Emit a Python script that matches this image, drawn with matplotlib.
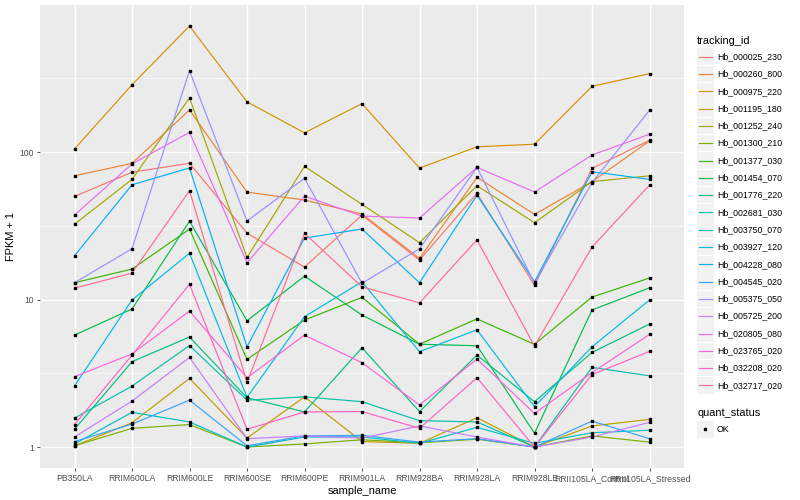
import matplotlib
matplotlib.use("Agg")
import matplotlib.pyplot as plt
from matplotlib.lines import Line2D
from matplotlib.patches import Rectangle
import numpy as np

plt.rcParams['font.family'] = ['Liberation Sans', 'DejaVu Sans']

samples = ['PB350LA', 'RRIM600LA', 'RRIM600LE', 'RRIM600SE', 'RRIM600PE',
           'RRIM901LA', 'RRIM928BA', 'RRIM928LA', 'RRIM928LE',
           'RRII105LA_Control', 'RRII105LA_Stressed']

tracking_ids = ['Hb_000025_230', 'Hb_000260_800', 'Hb_000975_220', 'Hb_001195_180',
                'Hb_001252_240', 'Hb_001300_210', 'Hb_001377_030', 'Hb_001454_070',
                'Hb_001776_220', 'Hb_002681_030', 'Hb_003750_070', 'Hb_003927_120',
                'Hb_004228_080', 'Hb_004545_020', 'Hb_005375_050', 'Hb_005725_200',
                'Hb_020805_080', 'Hb_023765_020', 'Hb_032208_020', 'Hb_032717_020']

# ggplot default hue palette for 20 levels
colors = ['#F8766D', '#EA8331', '#D89000', '#C09B00', '#A3A500', '#7CAE00',
          '#39B600', '#00BB4E', '#00BF7D', '#00C1A3', '#00BFC4', '#00BAE0',
          '#00B0F6', '#35A2FF', '#9590FF', '#C77CFF', '#E76BF3', '#FA62DB',
          '#FF62BC', '#FF6C91']

# FPKM + 1, one list per tracking_id (same order as samples)
fpkm = [
    [50, 73, 84, 28.2, 16.6, 37.4, 18.5, 52.5, 12.5, 77.5, 120],        # 000025
    [69, 83.8, 193, 53.5, 47.3, 38, 19.0, 67.4, 37.8, 62.9, 119],       # 000260
    [105, 286, 715, 219, 135, 213, 77.9, 108.6, 113, 279, 340],         # 000975
    [1.02, 1.46, 2.92, 1.15, 2.19, 1.09, 1.06, 1.58, 1.0, 1.39, 1.54],  # 001195
    [32.4, 65.3, 233, 19.3, 80, 44.2, 24.3, 59.1, 33.2, 63, 69],        # 001252
    [1.02, 1.34, 1.42, 1.0, 1.05, 1.12, 1.07, 1.13, 1.0, 1.19, 1.08],   # 001300
    [13.0, 16.1, 30, 3.93, 7.26, 10.35, 4.98, 7.39, 4.97, 10.4, 14.0],  # 001377
    [5.74, 8.63, 34, 7.18, 14.4, 7.85, 4.98, 4.86, 1.24, 8.5, 12.0],    # 001454
    [1.32, 3.79, 5.57, 2.16, 1.73, 4.71, 1.74, 4.2, 2.03, 4.38, 6.82],  # 001776
    [1.57, 2.59, 4.88, 2.08, 2.19, 2.03, 1.51, 1.48, 1.0, 3.47, 3.04],  # 002681
    [1.05, 1.72, 1.48, 1.0, 1.17, 1.17, 1.06, 1.36, 1.06, 1.25, 1.30],  # 003750
    [2.6, 9.93, 20.6, 2.17, 7.65, 13.2, 4.43, 6.24, 1.88, 4.78, 9.93],  # 003927
    [19.8, 60, 78, 4.79, 26.1, 30.1, 13.0, 51, 13.2, 73.5, 65.3],       # 004228
    [1.09, 1.43, 2.08, 1.02, 1.19, 1.2, 1.08, 1.14, 1.0, 1.5, 1.14],    # 004545
    [13.0, 22.1, 356, 34.1, 66.4, 12.9, 22.1, 78.7, 12.9, 62, 192],     # 005375
    [1.17, 2.05, 4.05, 1.14, 1.19, 1.15, 1.39, 1.17, 1.0, 1.17, 1.47],  # 005725
    [37.4, 83, 136, 17.8, 50.3, 36.8, 35.7, 78.7, 53.6, 95.5, 132],     # 020805
    [3.0, 4.28, 8.35, 2.95, 5.74, 3.73, 1.93, 3.95, 1.69, 3.2, 5.8],    # 023765
    [1.42, 4.2, 12.7, 1.32, 1.73, 1.74, 1.34, 2.95, 1.0, 3.1, 4.45],    # 032208
    [11.95, 15.1, 54.7, 2.74, 28.1, 12.2, 9.5, 25.4, 4.84, 22.7, 59.7], # 032717
]

W, H = 800, 500
fig = plt.figure(figsize=(W / 100, H / 100), dpi=100)
ax = fig.add_axes([40 / W, 1 - 468 / H, (684 - 40) / W, (468 - 5) / H])

x = np.arange(len(samples))
for vals, col in zip(fpkm, colors):
    ax.plot(x, vals, color=col, lw=0.85, zorder=3)
for vals in fpkm:
    ax.plot(x, vals, ls='none', marker='s', ms=2.1, color='black', zorder=4)

ax.set_yscale('log')
ax.set_ylim(10 ** -0.142, 10 ** 2.997)
ax.set_xlim(-0.6, len(samples) - 0.4)
ax.set_yticks([1, 10, 100])
ax.set_yticklabels(['1', '10', '100'])
ax.set_yticks([10 ** 0.5, 10 ** 1.5, 10 ** 2.5], minor=True)
ax.yaxis.set_minor_formatter(matplotlib.ticker.NullFormatter())
ax.set_xticks(x)
ax.set_xticklabels(samples)

ax.set_facecolor('#EBEBEB')
for s in ax.spines.values():
    s.set_visible(False)
ax.grid(True, which='major', color='white', lw=1.0)
ax.grid(True, which='minor', axis='y', color='white', lw=0.5)
ax.set_axisbelow(True)
ax.tick_params(which='major', length=2.5, width=0.6, color='#333333',
               labelsize=6.2, labelcolor='#4D4D4D', pad=2)
ax.tick_params(which='minor', length=0)

ax.set_xlabel('sample_name', fontsize=7.9, labelpad=2)
ax.set_ylabel('FPKM + 1', fontsize=7.9, labelpad=2)


# --- legends drawn by hand in pixel positions (ggplot look) ---
def fx(px):
    return px / W


def fy(py):
    return 1 - py / H


def key(py):
    fig.add_artist(Rectangle((fx(697), fy(py + 8.3)), 16.6 / W, 16.6 / H,
                             transform=fig.transFigure, facecolor='#F2F2F2',
                             edgecolor='none'))


fig.text(fx(697), fy(40.5), 'tracking_id', fontsize=7.9, va='center', ha='left')
for i, (tid, col) in enumerate(zip(tracking_ids, colors)):
    yc = 56.7 + 17.3 * i
    key(yc)
    fig.add_artist(Line2D([fx(698.5), fx(712)], [fy(yc), fy(yc)],
                          transform=fig.transFigure, color=col, lw=0.85))
    fig.text(fx(717), fy(yc), tid, fontsize=6.3, va='center', ha='left')

fig.text(fx(697), fy(412.5), 'quant_status', fontsize=7.9, va='center', ha='left')
key(429.3)
fig.add_artist(Line2D([fx(705.3)], [fy(429.3)], transform=fig.transFigure,
                      ls='none', marker='s', ms=2.1, color='black'))
fig.text(fx(717), fy(429.3), 'OK', fontsize=6.3, va='center', ha='left')

fig.savefig('out.png', dpi=100)
